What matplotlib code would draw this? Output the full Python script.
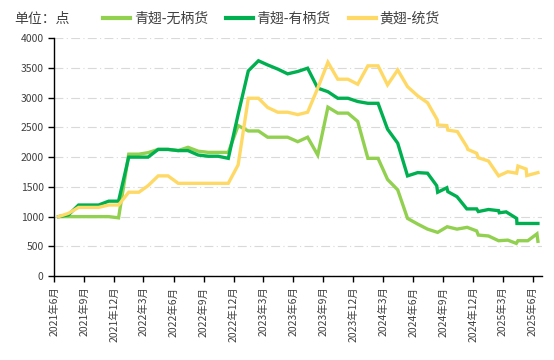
import pandas as pd
import matplotlib
matplotlib.use('Agg')
import matplotlib.pyplot as plt

plt.rcParams['font.family'] = ['Noto Sans CJK SC', 'DejaVu Sans']

# 月度数据（2021年6月 - 2024年7月，月中取值）
months = pd.date_range('2021-06-01', '2024-07-01', freq='MS') + pd.Timedelta(days=14)

wubing_month = [1000, 1000, 1000, 1000, 1000, 1000, 980, 2050, 2050, 2075,
                2130, 2130, 2110, 2165, 2100, 2080, 2080, 2080, 2530, 2440,
                2440, 2335, 2335, 2335, 2260, 2335, 2035, 2840, 2740, 2740,
                2600, 1980, 1980, 1625, 1450, 970, 875, 790]
youbing_month = [1000, 1030, 1195, 1195, 1195, 1260, 1260, 2000, 2000, 2000,
                 2130, 2130, 2110, 2110, 2035, 2015, 2015, 1980, 2720, 3450,
                 3620, 3550, 3480, 3400, 3440, 3495, 3160, 3100, 2990, 2990,
                 2935, 2905, 2905, 2470, 2235, 1685, 1740, 1730]
tonghuo_month = [1000, 1055, 1155, 1155, 1155, 1195, 1195, 1410, 1410, 1520,
                 1685, 1685, 1560, 1560, 1560, 1560, 1560, 1560, 1870, 2990,
                 2990, 2835, 2755, 2755, 2715, 2755, 3160, 3595, 3310, 3310,
                 3225, 3535, 3535, 3215, 3465, 3185, 3030, 2915]

# 2024年8月以后的数据
wubing_tail_dates = ['2024-08-15', '2024-09-13', '2024-10-13', '2024-11-13',
                     '2024-12-12', '2024-12-17', '2025-01-17', '2025-02-17',
                     '2025-03-17', '2025-04-12', '2025-04-17', '2025-05-17',
                     '2025-06-14', '2025-06-17']
wubing_tail = [735, 830, 790, 820, 760, 690, 675, 595, 605, 550, 595, 595, 710, 585]

youbing_tail_dates = ['2024-08-12', '2024-08-15', '2024-09-12', '2024-09-15',
                      '2024-10-13', '2024-11-12', '2024-12-12', '2024-12-17',
                      '2025-01-17', '2025-02-17', '2025-02-19', '2025-03-12',
                      '2025-04-13', '2025-04-14', '2025-05-17', '2025-06-17']
youbing_tail = [1520, 1410, 1485, 1420, 1335, 1130, 1130, 1085,
                1120, 1100, 1065, 1080, 970, 885, 885, 885]

tonghuo_tail_dates = ['2024-08-14', '2024-08-15', '2024-09-12', '2024-09-15',
                      '2024-10-14', '2024-11-12', '2024-11-15', '2024-12-12',
                      '2024-12-17', '2025-01-17', '2025-02-17', '2025-03-17',
                      '2025-04-13', '2025-04-17', '2025-05-12', '2025-05-14',
                      '2025-06-17']
tonghuo_tail = [2625, 2540, 2530, 2455, 2430, 2175, 2130, 2065,
                1990, 1935, 1685, 1755, 1730, 1850, 1800, 1690, 1740]

tick_dates = pd.date_range('2021-06-01', '2025-06-01', freq='3MS')
tick_labels = ['2021年6月', '2021年9月', '2021年12月', '2022年3月', '2022年6月',
               '2022年9月', '2022年12月', '2023年3月', '2023年6月', '2023年9月',
               '2023年12月', '2024年3月', '2024年6月', '2024年9月', '2024年12月',
               '2025年3月', '2025年6月']

series = [
    ('青翅-无柄货', wubing_month, wubing_tail_dates, wubing_tail, '#92D050'),
    ('青翅-有柄货', youbing_month, youbing_tail_dates, youbing_tail, '#00B050'),
    ('黄翅-统货', tonghuo_month, tonghuo_tail_dates, tonghuo_tail, '#FFD966'),
]

fig = plt.figure(figsize=(5.54, 3.6), dpi=100)
ax = fig.add_axes([0.0975, 0.233, 0.88, 0.661])

for name, vals, tdates, tvals, color in series:
    x = list(months) + list(pd.to_datetime(tdates))
    y = list(vals) + list(tvals)
    ax.plot(x, y, color=color, lw=2.4, label=name, solid_joinstyle='miter')

ax.set_ylim(0, 4000)
ax.set_yticks(range(0, 4001, 500))
ax.set_xlim(pd.Timestamp('2021-06-01'), pd.Timestamp('2025-06-28'))
ax.set_xticks(tick_dates)
ax.set_xticklabels(tick_labels, rotation=90, fontsize=7.5, color='#404040')
ax.tick_params(axis='y', labelsize=7.5, labelcolor='#404040', length=4, width=1)
ax.tick_params(axis='x', length=4, width=1)

ax.grid(axis='y', color='#d9d9d9', lw=0.8, linestyle=(0, (8, 3, 1, 3)))
ax.set_axisbelow(True)
for s in ['top', 'right']:
    ax.spines[s].set_visible(False)
for s in ['left', 'bottom']:
    ax.spines[s].set_color('black')
    ax.spines[s].set_linewidth(1)

fig.text(0.025, 0.948, '单位：点', fontsize=10, color='#404040', va='center')
leg = fig.legend(loc='center', bbox_to_anchor=(0.49, 0.948), ncol=3, frameon=False,
                 fontsize=10, handlelength=1.95, columnspacing=1.3, handletextpad=0.25,
                 labelcolor='#404040')
for h in leg.get_lines():
    h.set_linewidth(3)

fig.savefig('out.png', dpi=100)
